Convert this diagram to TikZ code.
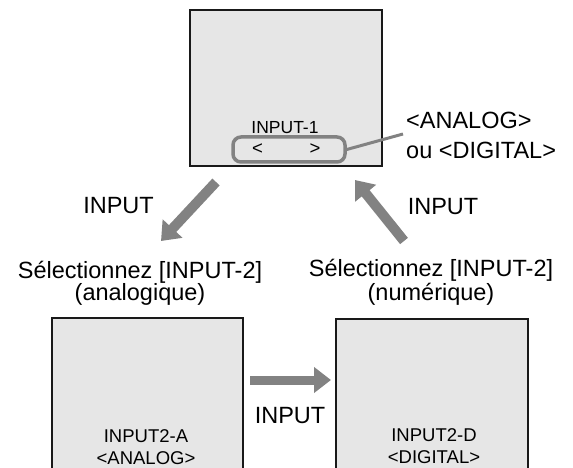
\documentclass[tikz,border=0pt]{standalone}
\usepackage{fontspec}
\setmainfont{Liberation Sans}
\usetikzlibrary{arrows.meta}
\definecolor{screenfill}{HTML}{E6E6E6}
\definecolor{arrowgray}{HTML}{828282}
\tikzset{
  screen/.style={draw=black!90, line width=1.1pt, fill=screenfill, inner sep=0pt},
  bigtxt/.style={font=\fontsize{23.5}{22}\selectfont, inner sep=0pt, anchor=base, align=center},
  smalltxt/.style={font=\fontsize{18.5}{22}\selectfont, inner sep=0pt, anchor=base, align=center},
  fatarrow/.style={draw=arrowgray, line width=10pt, -{Triangle[length=17pt,width=26pt]}},
  pill/.style={draw=arrowgray, line width=3.5pt, rounded corners=8pt, fill=screenfill, inner sep=0pt, minimum width=112pt, minimum height=25pt},
}
\begin{document}
\begin{tikzpicture}[x=1pt,y=-1pt]
\useasboundingbox (0,0) rectangle (573,468);
% screens
\node[screen, minimum width=192pt, minimum height=156pt] (top) at (286,88) {};
\node[screen, minimum width=191pt, minimum height=156pt] (ana) at (147.5,396) {};
\node[screen, minimum width=192pt, minimum height=155pt] (dig) at (432,396.5) {};
% top screen content
\node[smalltxt, font=\fontsize{17.5}{22}\selectfont] (in1) at (285,133.5) {INPUT-1};
\node[pill] (sel) at (289,149.5) {};
\node[smalltxt] (lt) at (257.5,155) {<};
\node[smalltxt] (gt) at (315,155) {>};
\coordinate (lead) at (403,134);
\draw[draw=arrowgray, line width=3pt] (sel.east) -- (lead);
\node[bigtxt, anchor=base west, align=left, font=\fontsize{23.5}{30}\selectfont] (opt) at (406,158) {<ANALOG>\\ou <DIGITAL>};
% bottom screen texts
\node[smalltxt] (anat) at (146,464) {INPUT2-A\\<ANALOG>};
\node[smalltxt] (digt) at (434,463) {INPUT2-D\\<DIGITAL>};
% arrows
\coordinate (a1s) at (216,182);
\coordinate (a1e) at (161,241);
\draw[fatarrow] (a1s) -- (a1e);
\coordinate (a2s) at (404,241);
\coordinate (a2e) at (355,180);
\draw[fatarrow] (a2s) -- (a2e);
\coordinate (a3s) at (250,380);
\coordinate (a3e) at (331,380);
\draw[fatarrow, line width=9pt, -{Triangle[length=17pt,width=25pt]}] (a3s) -- (a3e);
% labels
\node[bigtxt] (inl) at (118.5,213.5) {INPUT};
\node[bigtxt] (inr) at (443,214.5) {INPUT};
\node[bigtxt] (inb) at (290,423.5) {INPUT};
\node[bigtxt] (sell) at (140,300) {Sélectionnez [INPUT-2]\\(analogique)};
\node[bigtxt] (selr) at (431,300) {Sélectionnez [INPUT-2]\\(numérique)};
\end{tikzpicture}
\end{document}
